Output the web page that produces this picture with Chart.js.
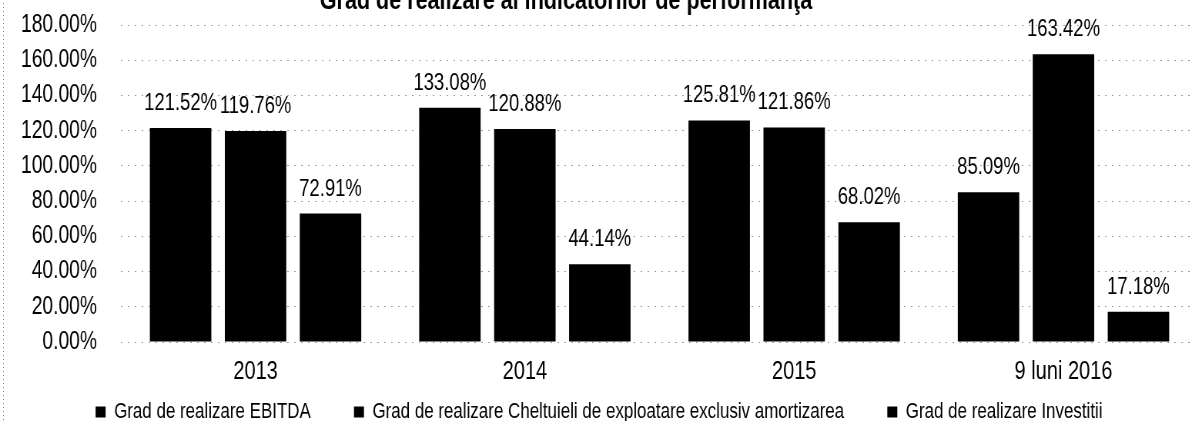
<!DOCTYPE html>
<html><head><meta charset="utf-8">
<script src="https://cdn.jsdelivr.net/npm/chart.js@4.4.0/dist/chart.umd.min.js"></script>
<style>
html,body{margin:0;padding:0;background:#fff;overflow:hidden;width:1190px;height:421px;}
/* drawn wide, then squeezed horizontally to mimic the condensed (Arial Narrow-like) look of the original */
#wrap{position:absolute;left:0;top:-21px;width:1572px;height:454px;transform:scaleX(0.77);transform-origin:0 0;}
</style></head><body>
<div id="wrap"><canvas id="c"></canvas></div>
<script>
const titleText = 'Grad de realizare al indicatorilor de performanţă';
const categories = ['2013', '2014', '2015', '9 luni 2016'];
const seriesNames = [
  'Grad de realizare EBITDA',
  'Grad de realizare Cheltuieli de exploatare exclusiv amortizarea',
  'Grad de realizare Investitii'
];
const ebitda = [121.52, 133.08, 125.81, 85.09];
const cheltuieli = [119.76, 120.88, 121.86, 163.42];
const investitii = [72.91, 44.14, 68.02, 17.18];
const yMin = 0, yMax = 180, yStep = 20;

const FONT = "'Liberation Sans', Arial, sans-serif";
Chart.defaults.font.family = FONT;
Chart.defaults.color = '#000';

const fmt = v => Number(v).toFixed(2) + '%';

const extras = {
  id: 'extras',
  afterDatasetsDraw(chart) {
    const ctx = chart.ctx;
    ctx.save();
    ctx.font = '24px ' + FONT;
    ctx.fillStyle = '#000';
    ctx.textAlign = 'center';
    ctx.textBaseline = 'alphabetic';
    chart.data.datasets.forEach((ds, i) => {
      chart.getDatasetMeta(i).data.forEach((bar, j) => {
        ctx.fillText(fmt(ds.data[j]), bar.x, bar.y - 18);
      });
    });
    ctx.restore();
  },
  afterDraw(chart) {
    const ctx = chart.ctx;
    ctx.save();
    ctx.font = 'bold 28px ' + FONT;
    ctx.fillStyle = '#000';
    ctx.textAlign = 'center';
    ctx.textBaseline = 'alphabetic';
    ctx.fillText(titleText, 735, 30);
    ctx.strokeStyle = '#777';
    ctx.lineWidth = 1;
    ctx.setLineDash([1, 3]);
    ctx.beginPath();
    ctx.moveTo(4.5, 0);
    ctx.lineTo(4.5, 454);
    ctx.stroke();
    ctx.restore();
  }
};

new Chart(document.getElementById('c'), {
  type: 'bar',
  data: {
    labels: categories,
    datasets: [
      { label: seriesNames[0], data: ebitda, backgroundColor: '#000' },
      { label: seriesNames[1], data: cheltuieli, backgroundColor: '#000' },
      { label: seriesNames[2], data: investitii, backgroundColor: '#000' }
    ]
  },
  options: {
    responsive: true,
    maintainAspectRatio: false,
    animation: false,
    layout: { padding: { top: 9, right: 16, left: 0, bottom: 0 } },
    datasets: { bar: { categoryPercentage: 0.835, barPercentage: 0.82 } },
    plugins: {
      title: { display: false },
      tooltip: { enabled: false },
      legend: {
        position: 'bottom',
        labels: {
          boxWidth: 13, boxHeight: 11,
          padding: 56,
          font: { size: 22 },
          color: '#000'
        }
      }
    },
    scales: {
      x: {
        grid: { display: false },
        border: { display: false },
        ticks: { font: { size: 26 }, padding: 6, color: '#000', autoSkip: false, maxRotation: 0 },
        afterFit(s) { s.height = 3; s._computeLabelArea = () => undefined; }
      },
      y: {
        min: yMin, max: yMax,
        ticks: { stepSize: yStep, autoSkip: false, callback: v => fmt(v), font: { size: 25 }, padding: 31, color: '#000' },
        grid: { color: '#999', lineWidth: 1, drawTicks: false },
        border: { display: false, dash: [2, 7] },
        afterFit(s) { s.width = 157; }
      }
    }
  },
  plugins: [extras]
});
</script>
</body></html>
